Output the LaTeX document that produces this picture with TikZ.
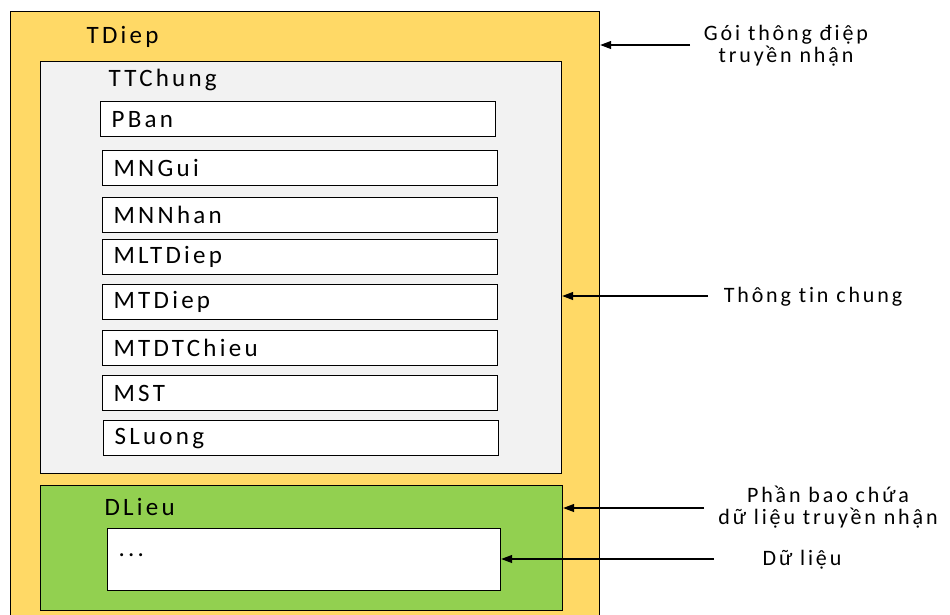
\documentclass[tikz,border=0pt]{standalone}
\usepackage{fontspec}
\setmainfont{Carlito}[LetterSpace=13, Ligatures=NoCommon]
\usepackage{tikz}
\definecolor{yellow400}{HTML}{FFD966}
\definecolor{gray100}{HTML}{F2F2F2}
\definecolor{green400}{HTML}{92D050}
\usetikzlibrary{arrows.meta}
\tikzstyle{khung}=[draw=black, anchor=north west, inner sep=0pt]
\tikzstyle{truong}=[draw=black, fill=white, anchor=north west, minimum height=35pt, text width=373pt, inner xsep=11pt, align=left, font=\fontsize{25}{27}\selectfont]
\tikzstyle{tieude}=[anchor=west, inner sep=0pt, font=\fontsize{25}{27}\selectfont]
\tikzstyle{ghichu}=[align=center, inner sep=0pt, font=\fontsize{22}{22}\selectfont]
\tikzstyle{muiten}=[-{Triangle[length=11pt,width=8pt]}]

\begin{document}
\begin{tikzpicture}[x=1pt, y=-1pt, line width=1.2pt]
					\clip (0,0) rectangle (950,614);
					% cac khung chua
					\node[khung, fill=yellow400, minimum width=589pt, minimum height=615pt] (tdiep) at (10,11) {};
					\node[khung, fill=gray100, minimum width=521pt, minimum height=412pt] (ttchung) at (40,61) {};
					\node[khung, fill=green400, minimum width=522pt, minimum height=125pt] (dlieu) at (40,485) {};
					\node[tieude] (tTDiep) at (86,37) {TDiep};
					\node[tieude] (tTTChung) at (108,80) {TTChung};
					\node[tieude] (tDLieu) at (104,507) {DLieu};
					% cac truong thong tin chung
					\node[truong] (pban) at (100,101) {PBan};
					\node[truong] (mngui) at (102,150) {MNGui};
					\node[truong] (mnnhan) at (102,197) {MNNhan};
					\node[truong] (mltdiep) at (102,239) {MLTDiep};
					\node[truong] (mtdiep) at (102,284) {MTDiep};
					\node[truong] (mtdtchieu) at (102,330) {MTDTChieu};
					\node[truong] (mst) at (102,375) {MST};
					\node[truong] (sluong) at (103,420) {SLuong};
					\node[truong, minimum height=62pt, text width=371pt, text depth=10pt] (dulieu) at (107,528) {...};
					% ghi chu
					\node[ghichu] (gGoi) at (786,46) {Gói thông điệp\\truyền nhận};
					\node[ghichu] (gTTChung) at (813,297) {Thông tin chung};
					\node[ghichu] (gPhan) at (828,507) {Phần bao chứa\\dữ liệu truyền nhận};
					\node[ghichu] (gDuLieu) at (802,560) {Dữ liệu};
					\coordinate (c1) at (690,45);
					\coordinate (c2) at (708,296);
					\coordinate (c3) at (704,508);
					\coordinate (c4) at (714,559);
					\path[draw=black, muiten] (c1) -- (c1 -| tdiep.east);
					\path[draw=black, muiten] (c2) -- (c2 -| ttchung.east);
					\path[draw=black, muiten] (c3) -- (c3 -| dlieu.east);
					\path[draw=black, muiten] (c4) -- (c4 -| dulieu.east);
				\end{tikzpicture}
\end{document}
